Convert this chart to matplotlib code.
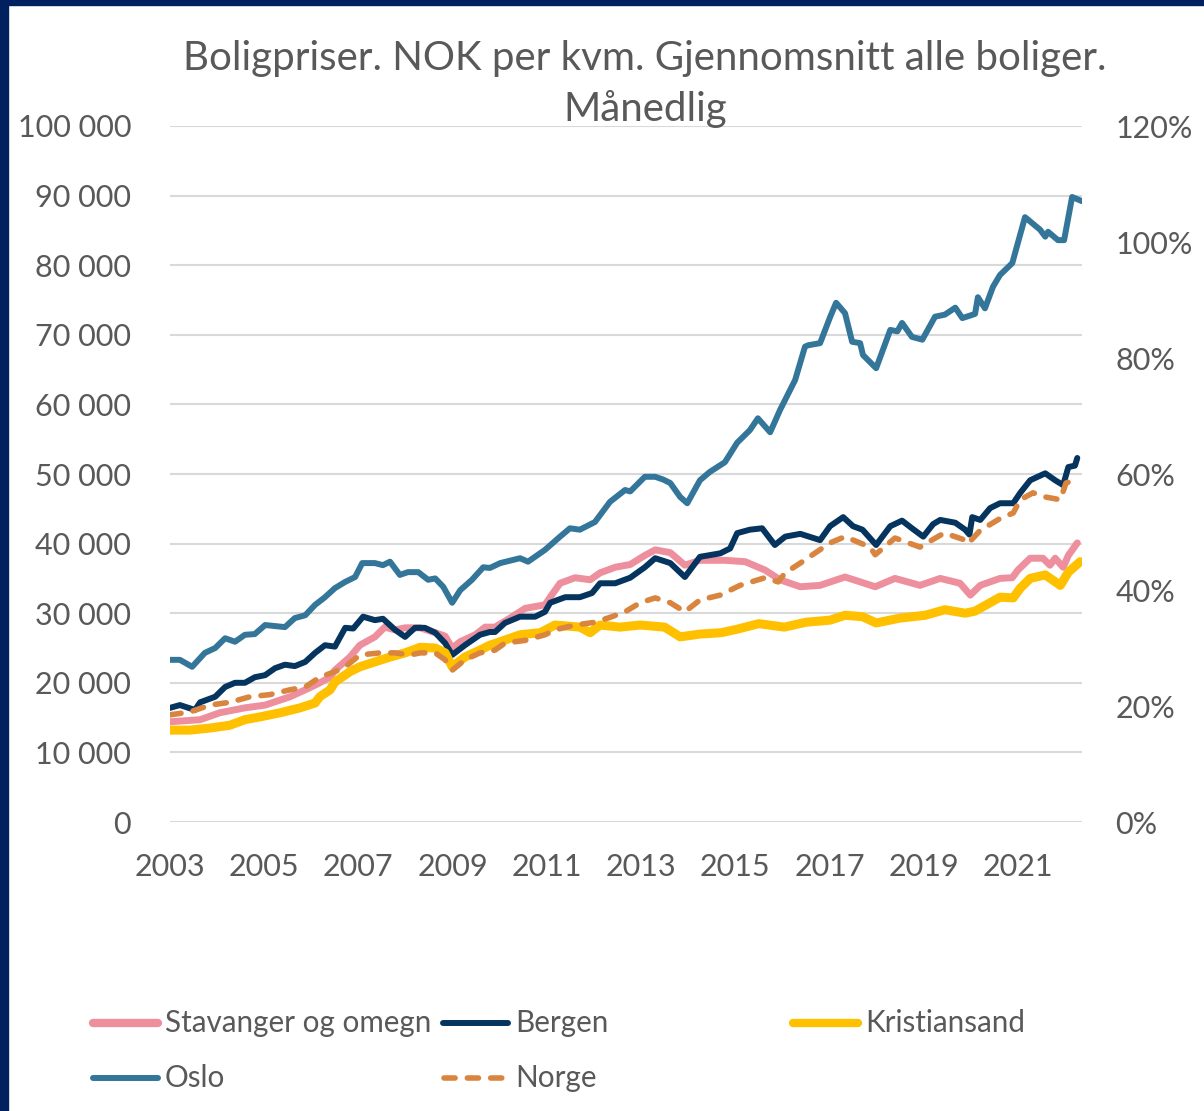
import matplotlib.pyplot as plt
from matplotlib.lines import Line2D
from matplotlib.patches import Rectangle
from matplotlib.ticker import FuncFormatter

plt.rcParams['font.family'] = ['Lato', 'DejaVu Sans']

# Values: decimal year -> NOK per kvm
stav_t = [2003.00, 2003.64, 2004.06, 2004.59, 2005.02, 2005.55, 2005.97, 2006.18, 2006.40, 2006.50,
          2006.82, 2007.03, 2007.35, 2007.56, 2007.78, 2007.99, 2008.31, 2008.63, 2008.84, 2008.99,
          2009.16, 2009.48, 2009.69, 2009.90, 2010.22, 2010.54, 2010.96, 2011.07, 2011.28, 2011.60,
          2011.92, 2012.13, 2012.45, 2012.77, 2013.08, 2013.30, 2013.62, 2013.93, 2014.25, 2014.78,
          2015.21, 2015.63, 2015.95, 2016.38, 2016.80, 2017.33, 2017.97, 2018.39, 2018.92, 2019.35,
          2019.77, 2019.99, 2020.20, 2020.62, 2020.88, 2021.00, 2021.26, 2021.53, 2021.68, 2021.79,
          2021.96, 2022.07, 2022.26]
stav_v = [14400, 14700, 15700, 16400, 16800, 18000, 19300, 20000, 20800, 21800,
          23700, 25400, 26600, 28000, 27600, 27900, 27900, 27200, 26700, 25000,
          25900, 26900, 28000, 28000, 29300, 30700, 31200, 32300, 34300, 35100,
          34800, 35800, 36600, 37000, 38300, 39100, 38700, 36900, 37600, 37600,
          37400, 36200, 34800, 33800, 34000, 35200, 33800, 35000, 34000, 35000,
          34300, 32600, 34000, 35000, 35100, 36200, 37900, 37900, 36900, 37900,
          36600, 38300, 40100]

berg_t = [2003.00, 2003.21, 2003.53, 2003.64, 2003.96, 2004.17, 2004.38, 2004.59, 2004.80, 2005.02,
          2005.23, 2005.44, 2005.65, 2005.87, 2006.08, 2006.29, 2006.50, 2006.72, 2006.89, 2007.10,
          2007.35, 2007.52, 2007.78, 2007.99, 2008.20, 2008.41, 2008.63, 2008.84, 2008.99, 2009.26,
          2009.58, 2009.79, 2009.90, 2010.11, 2010.43, 2010.75, 2010.96, 2011.07, 2011.39, 2011.70,
          2011.96, 2012.13, 2012.45, 2012.77, 2013.08, 2013.30, 2013.62, 2013.93, 2014.25, 2014.68,
          2014.89, 2015.04, 2015.31, 2015.57, 2015.84, 2016.06, 2016.38, 2016.80, 2017.01, 2017.29,
          2017.50, 2017.70, 2017.99, 2018.29, 2018.54, 2018.75, 2018.99, 2019.20, 2019.35, 2019.67,
          2019.88, 2019.97, 2020.03, 2020.20, 2020.41, 2020.62, 2020.90, 2021.05, 2021.26, 2021.58,
          2021.79, 2021.96, 2022.07, 2022.21, 2022.26]
berg_v = [16400, 16800, 16100, 17200, 18000, 19400, 20000, 20000, 20800, 21100,
          22100, 22600, 22400, 23000, 24300, 25400, 25200, 27900, 27800, 29500,
          29000, 29200, 27600, 26600, 27900, 27900, 27200, 25700, 24000, 25400,
          26900, 27300, 27300, 28600, 29500, 29500, 30200, 31500, 32300, 32300,
          32900, 34300, 34300, 35100, 36600, 37900, 37200, 35200, 38100, 38600,
          39300, 41500, 42000, 42200, 39800, 41000, 41400, 40500, 42500, 43800,
          42500, 42000, 39800, 42500, 43300, 42200, 41000, 42800, 43400, 43000,
          42000, 41300, 43800, 43400, 45100, 45800, 45800, 47300, 49100, 50100,
          49100, 48400, 51000, 51200, 52300]

kri_t = [2003.00, 2003.42, 2003.85, 2004.27, 2004.59, 2004.91, 2005.34, 2005.76, 2006.08, 2006.18,
         2006.40, 2006.50, 2006.82, 2007.03, 2007.35, 2007.67, 2007.99, 2008.31, 2008.63, 2008.84,
         2008.99, 2009.26, 2009.58, 2009.79, 2010.01, 2010.43, 2010.86, 2011.17, 2011.70, 2011.92,
         2012.13, 2012.55, 2012.98, 2013.50, 2013.83, 2014.25, 2014.70, 2015.04, 2015.50, 2016.04,
         2016.50, 2017.01, 2017.33, 2017.70, 2017.99, 2018.50, 2019.03, 2019.45, 2019.88, 2020.09,
         2020.62, 2020.90, 2021.05, 2021.26, 2021.58, 2021.90, 2022.07, 2022.32]
kri_v = [13200, 13200, 13500, 13900, 14700, 15100, 15700, 16400, 17100, 18000,
         19000, 20100, 21600, 22300, 23000, 23700, 24300, 25100, 25000, 24300,
         22300, 23700, 24700, 25400, 25900, 26900, 27200, 28300, 28000, 27200,
         28300, 28000, 28300, 28000, 26600, 27000, 27200, 27700, 28500, 28000,
         28700, 29000, 29700, 29500, 28600, 29300, 29700, 30500, 30000, 30300,
         32300, 32200, 33600, 35000, 35500, 34000, 35900, 37400]

oslo_t = [2003.00, 2003.21, 2003.47, 2003.74, 2003.96, 2004.17, 2004.38, 2004.59, 2004.80, 2005.02,
          2005.44, 2005.65, 2005.87, 2006.08, 2006.29, 2006.50, 2006.72, 2006.93, 2007.08, 2007.35,
          2007.52, 2007.67, 2007.88, 2008.05, 2008.27, 2008.48, 2008.63, 2008.80, 2008.99, 2009.16,
          2009.41, 2009.65, 2009.79, 2010.01, 2010.43, 2010.60, 2010.96, 2011.28, 2011.49, 2011.70,
          2012.02, 2012.34, 2012.66, 2012.77, 2013.08, 2013.30, 2013.47, 2013.62, 2013.83, 2013.98,
          2014.25, 2014.46, 2014.78, 2015.04, 2015.31, 2015.48, 2015.74, 2015.95, 2016.27, 2016.48,
          2016.55, 2016.80, 2017.01, 2017.14, 2017.33, 2017.48, 2017.65, 2017.71, 2017.99, 2018.29,
          2018.44, 2018.54, 2018.75, 2018.97, 2019.24, 2019.45, 2019.67, 2019.82, 2020.09, 2020.15,
          2020.30, 2020.47, 2020.62, 2020.88, 2021.15, 2021.47, 2021.58, 2021.64, 2021.85, 2021.98,
          2022.15, 2022.36]
oslo_v = [23300, 23300, 22300, 24300, 25000, 26400, 25900, 26900, 27000, 28300,
          28000, 29300, 29700, 31200, 32300, 33600, 34500, 35200, 37200, 37200,
          36900, 37400, 35500, 35900, 35900, 34800, 35000, 33800, 31500, 33300,
          34800, 36600, 36500, 37200, 37900, 37400, 39100, 41000, 42200, 42000,
          43100, 46000, 47700, 47500, 49600, 49600, 49200, 48700, 46700, 45800,
          49100, 50300, 51700, 54500, 56300, 58000, 56000, 59200, 63500, 68300,
          68500, 68800, 72500, 74600, 73100, 69000, 68800, 67100, 65200, 70700,
          70500, 71700, 69700, 69300, 72600, 72900, 73900, 72400, 73000, 75400,
          73800, 76900, 78600, 80300, 86900, 85100, 84100, 84800, 83600, 83600,
          89800, 89200]

norge_t = [2003.00, 2003.42, 2003.85, 2004.27, 2004.70, 2005.12, 2005.55, 2005.87, 2006.18, 2006.50,
           2006.72, 2007.03, 2007.46, 2007.78, 2008.10, 2008.31, 2008.63, 2008.84, 2008.99, 2009.26,
           2009.58, 2009.90, 2010.11, 2010.54, 2010.96, 2011.17, 2011.60, 2012.02, 2012.34, 2012.66,
           2012.98, 2013.30, 2013.62, 2013.93, 2014.25, 2014.68, 2015.10, 2015.63, 2015.91, 2016.06,
           2016.38, 2017.01, 2017.33, 2017.86, 2017.97, 2018.39, 2018.92, 2019.35, 2019.45, 2019.88,
           2019.94, 2020.20, 2020.62, 2020.90, 2021.05, 2021.32, 2021.58, 2021.90, 2022.02, 2022.15]
norge_v = [15400, 15800, 16800, 17200, 18000, 18300, 19000, 19400, 20800, 21600,
           22300, 24000, 24300, 24300, 24000, 24300, 24300, 23300, 21800, 23300,
           24300, 24700, 25700, 26100, 26900, 27600, 28300, 28700, 29400, 30200,
           31500, 32200, 31500, 30200, 31900, 32600, 34000, 35100, 34500, 35800,
           37200, 40100, 41000, 39500, 38400, 40800, 39500, 41200, 41500, 40500,
           40000, 41900, 43600, 44400, 46300, 47300, 46700, 46300, 48700, 49000]

# name, x, y, color, linewidth, dashed
series = [
    ('Stavanger og omegn', stav_t, stav_v, '#EE8F9E', 5.0, False),
    ('Bergen', berg_t, berg_v, '#05345E', 4.3, False),
    ('Kristiansand', kri_t, kri_v, '#FFC000', 6.5, False),
    ('Oslo', oslo_t, oslo_v, '#347699', 4.3, False),
    ('Norge', norge_t, norge_v, '#D9853F', 4.0, True),
]

TEXT = '#595959'
fig = plt.figure(figsize=(12.04, 11.11), dpi=100)
ax = fig.add_axes([170 / 1204, 1 - 822 / 1111, 912 / 1204, 696 / 1111])

for name, t, v, c, lw, dashed in series:
    line, = ax.plot(t, v, color=c, lw=lw, solid_joinstyle='round', solid_capstyle='round')
    if dashed:
        line.set_dashes((2, 2.2))
        line.set_dash_capstyle('round')

ax.set_xlim(2003, 2022.36)
ax.set_ylim(0, 100000)
ax.set_xticks(range(2003, 2022, 2))
ax.set_yticks(range(0, 100001, 10000))
ax.yaxis.set_major_formatter(FuncFormatter(lambda v, p: f'{int(v):,}'.replace(',', ' ')))
ax.grid(axis='y', color='#D9D9D9', lw=1.5)
ax.set_axisbelow(True)
for s in ax.spines.values():
    s.set_visible(False)
ax.tick_params(length=0, labelsize=22, labelcolor=TEXT)
ax.tick_params(axis='y', pad=28)
ax.tick_params(axis='x', pad=22)

# secondary axis (percent), empty
ax2 = ax.twinx()
ax2.set_ylim(0, 1.2)
ax2.set_yticks([0, 0.2, 0.4, 0.6, 0.8, 1.0, 1.2])
ax2.yaxis.set_major_formatter(FuncFormatter(lambda v, p: f'{v * 100:.0f}%'))
for s in ax2.spines.values():
    s.set_visible(False)
ax2.tick_params(length=0, labelsize=22, labelcolor=TEXT, pad=24)

fig.text(645 / 1204, 1 - 84 / 1111, 'Boligpriser. NOK per kvm. Gjennomsnitt alle boliger.\nMånedlig',
         ha='center', va='center', fontsize=29, color=TEXT, linespacing=1.45)

# legend drawn by hand to keep the uneven column spacing
legend_pos = [(90, 1023), (440, 1023), (790, 1023), (90, 1078), (440, 1078)]
for (name, t, v, c, lw, dashed), (lx, ly) in zip(series, legend_pos):
    yy = 1 - ly / 1111
    h = Line2D([(lx + 3) / 1204, (lx + 68) / 1204], [yy, yy], color=c, lw=lw if lw < 5 else 6,
               solid_capstyle='round', transform=fig.transFigure)
    if dashed:
        h.set_dashes((2, 2.2))
        h.set_dash_capstyle('round')
        h.set_xdata([(lx + 4) / 1204, (lx + 64) / 1204])
    fig.add_artist(h)
    fig.text((lx + 75) / 1204, yy, name, ha='left', va='center', fontsize=21.3, color=TEXT)

# navy frame on the left and top edges
fig.add_artist(Rectangle((0, 0), 8 / 1204, 1, color='#002060', transform=fig.transFigure))
fig.add_artist(Rectangle((0, 1 - 5 / 1111), 1, 5 / 1111, color='#002060', transform=fig.transFigure))

fig.savefig('out.png', dpi=100)
